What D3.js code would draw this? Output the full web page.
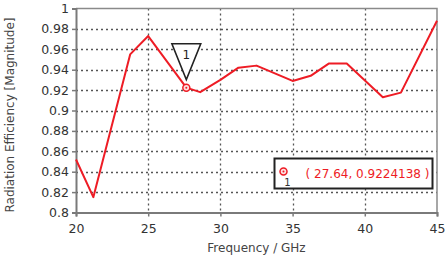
<!DOCTYPE html>
<html>
<head>
<meta charset="utf-8">
<script src="https://cdn.jsdelivr.net/npm/d3@7"></script>
<style>
  body { margin: 0; background: #fff; }
  text { font-family: "DejaVu Sans", Verdana, sans-serif; }
</style>
</head>
<body>
<div id="chart"></div>
<script>
(function() {

    var freq = [20, 21.2, 23.75, 25, 27.64, 28.6, 30, 31.25, 32.5, 35, 36.25, 37.5, 38.75, 41.25, 42.5, 45];
    var eff  = [0.852, 0.815, 0.955, 0.973, 0.9224, 0.918, 0.930, 0.942, 0.944, 0.929, 0.934, 0.946, 0.946, 0.913, 0.9175, 0.988];
    var xTicks = [20, 25, 30, 35, 40, 45];
    var yTicks = [0.8, 0.82, 0.84, 0.86, 0.88, 0.9, 0.92, 0.94, 0.96, 0.98, 1];
    var markerPoint = [27.64, 0.9224138];
    var markerLabel = "( 27.64, 0.9224138 )";

    var width = 446,
        height = 259;

    var margin = {top: 8.5, right: 9, bottom: 46.5, left: 76};

    var svg = d3.select("#chart")
        .append('svg')
        .attr('width', width)
        .attr('height', height);

    var x = d3.scaleLinear().domain([20, 45]).range([margin.left, width - margin.right]);
    var y = d3.scaleLinear().domain([0.8, 1]).range([height - margin.bottom, margin.top]);

    // grid
    svg.append('g').selectAll('line.gx')
        .data(xTicks.slice(1, -1))
        .enter().append('line')
        .attr('x1', function(d) { return Math.round(x(d)) + 0.5; })
        .attr('x2', function(d) { return Math.round(x(d)) + 0.5; })
        .attr('y1', y(1)).attr('y2', y(0.8))
        .attr('stroke', '#555').attr('stroke-width', 1.3)
        .attr('stroke-dasharray', '2,3');

    svg.append('g').selectAll('line.gy')
        .data(yTicks.slice(1, -1))
        .enter().append('line')
        .attr('x1', x(20)).attr('x2', x(45))
        .attr('y1', function(d) { return Math.round(y(d)) + 0.5; })
        .attr('y2', function(d) { return Math.round(y(d)) + 0.5; })
        .attr('stroke', '#555').attr('stroke-width', 1.3)
        .attr('stroke-dasharray', '2,3');

    // frame top/right
    svg.append('path')
        .attr('d', 'M' + x(20) + ',' + y(1) + 'H' + x(45) + 'V' + y(0.8))
        .attr('fill', 'none').attr('stroke', '#8a8a8a').attr('stroke-width', 1.5);

    // axes
    var xAxis = svg.append('g')
        .attr('transform', 'translate(0,' + y(0.8) + ')')
        .call(d3.axisBottom(x).tickValues(xTicks).tickSize(4).tickFormat(d3.format('d')));
    var yAxis = svg.append('g')
        .attr('transform', 'translate(' + x(20) + ',0)')
        .call(d3.axisLeft(y).tickValues(yTicks).tickSize(4).tickFormat(function(d) { return d3.format('')(+d.toFixed(2)); }));

    [xAxis, yAxis].forEach(function(a) {
        a.select('.domain').attr('stroke', '#7a7a7a').attr('stroke-width', 2);
        a.selectAll('.tick line').attr('stroke', '#7a7a7a').attr('stroke-width', 1.5);
        a.selectAll('.tick text').attr('fill', '#333').style('font-size', '12.5px')
            .style('font-family', '"DejaVu Sans", Verdana, sans-serif');
    });
    xAxis.selectAll('.tick text').attr('dy', '1.05em');
    yAxis.selectAll('.tick text').attr('x', -7);

    // labels
    svg.append('text')
        .attr('x', (x(20) + x(45)) / 2 + 0)
        .attr('y', 252)
        .attr('text-anchor', 'middle')
        .attr('fill', '#444')
        .style('font-size', '12px')
        .text('Frequency / GHz');

    svg.append('text')
        .attr('transform', 'translate(14,' + 115 + ') rotate(-90)')
        .attr('text-anchor', 'middle')
        .attr('fill', '#444')
        .style('font-size', '12px')
        .text('Radiation Efficiency [Magnitude]');

    // curve
    var line = d3.line()
        .x(function(d, i) { return x(freq[i]); })
        .y(function(d) { return y(d); });

    svg.append('path')
        .datum(eff)
        .attr('d', line)
        .attr('fill', 'none')
        .attr('stroke', '#ee1c25')
        .attr('stroke-width', 2)
        .attr('stroke-linejoin', 'round');

    // marker on curve
    var mx = x(markerPoint[0]), my = y(markerPoint[1]);
    svg.append('circle').attr('cx', mx).attr('cy', my).attr('r', 3.5)
        .attr('fill', '#fde0e0').attr('stroke', '#ee1c25').attr('stroke-width', 1.5);
    svg.append('circle').attr('cx', mx).attr('cy', my).attr('r', 1)
        .attr('fill', '#ee1c25');

    // triangle flag
    var tw = 29, th = 36, gap = 8;
    svg.append('path')
        .attr('d', 'M' + (mx - tw / 2) + ',' + (my - gap - th) + 'H' + (mx + tw / 2) + 'L' + mx + ',' + (my - gap) + 'Z')
        .attr('fill', '#fff').attr('stroke', '#222').attr('stroke-width', 1.5);
    svg.append('text')
        .attr('x', mx).attr('y', my - gap - th + 15)
        .attr('text-anchor', 'middle')
        .attr('fill', '#222')
        .style('font-size', '12px')
        .text('1');

    // annotation box
    var bx = 274.5, by = 158.5, bw = 158, bh = 30;
    svg.append('rect')
        .attr('x', bx).attr('y', by).attr('width', bw).attr('height', bh)
        .attr('fill', '#fff').attr('stroke', '#222').attr('stroke-width', 2);
    svg.append('circle').attr('cx', bx + 9).attr('cy', by + 13).attr('r', 3.5)
        .attr('fill', '#fde0e0').attr('stroke', '#ee1c25').attr('stroke-width', 1.5);
    svg.append('circle').attr('cx', bx + 9).attr('cy', by + 13).attr('r', 1)
        .attr('fill', '#ee1c25');
    svg.append('text')
        .attr('x', bx + 13).attr('y', by + 27)
        .attr('text-anchor', 'middle')
        .attr('fill', '#333')
        .style('font-size', '10px')
        .text('1');
    svg.append('text')
        .attr('x', bx + 93).attr('y', by + 19)
        .attr('text-anchor', 'middle')
        .attr('fill', '#ee1c25')
        .style('font-size', '12px')
        .text(markerLabel);

})();
</script>
</body>
</html>
